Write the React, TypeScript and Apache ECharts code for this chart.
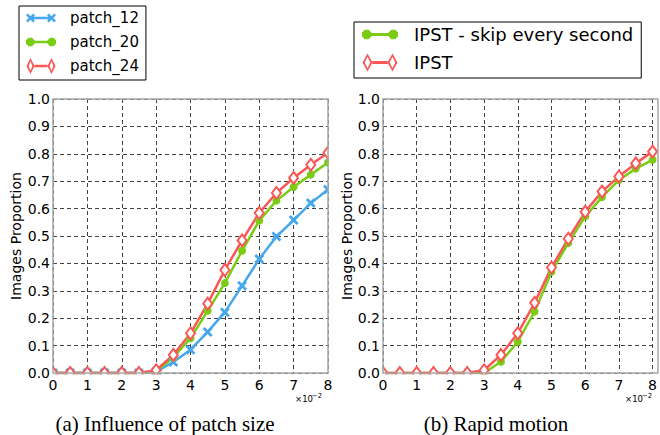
import React, { useEffect, useRef } from "react";
import * as echarts from "echarts";

const xs = [0, 0.5, 1, 1.5, 2, 2.5, 3, 3.5, 4, 4.5, 5, 5.5, 6, 6.5, 7, 7.5, 8];
const patch12 = [0, 0, 0, 0, 0, 0, 0.005, 0.04, 0.085, 0.15, 0.222, 0.318, 0.416, 0.498, 0.558, 0.62, 0.67];
const patch20 = [0, 0, 0, 0, 0, 0, 0.005, 0.057, 0.127, 0.227, 0.328, 0.446, 0.556, 0.629, 0.679, 0.724, 0.768];
const patch24 = [0, 0, 0, 0, 0, 0, 0.01, 0.066, 0.145, 0.253, 0.376, 0.484, 0.584, 0.657, 0.712, 0.76, 0.804];
const ipstSkip = [0, 0, 0, 0, 0, 0, 0, 0.041, 0.114, 0.224, 0.369, 0.474, 0.571, 0.642, 0.704, 0.746, 0.778];
const ipst = [0, 0, 0, 0, 0, 0, 0.01, 0.066, 0.145, 0.256, 0.385, 0.49, 0.588, 0.662, 0.717, 0.765, 0.808];

const leftNames = ["patch_12", "patch_20", "patch_24"];
const rightNames = ["IPST - skip every second", "IPST"];
const captions = ["(a) Influence of patch size", "(b) Rapid motion"];
const yName = "Images Proportion";

const BLUE = "#46a8ec";
const GREEN = "#7acd14";
const RED = "#fa5656";

const X_SYMBOL = "path://M0,2 L2,0 L5,3 L8,0 L10,2 L7,5 L10,8 L8,10 L5,7 L2,10 L0,8 L3,5 Z";

const f = (n: number) => n.toFixed(2);
function rectP(x1: number, x2: number, cy: number, lw: number) {
  return `M${f(x1)},${f(cy - lw / 2)} L${f(x2)},${f(cy - lw / 2)} L${f(x2)},${f(cy + lw / 2)} L${f(x1)},${f(cy + lw / 2)} Z `;
}
function xP(cx: number, cy: number, s: number) {
  const t = [[0, 2], [2, 0], [5, 3], [8, 0], [10, 2], [7, 5], [10, 8], [8, 10], [5, 7], [2, 10], [0, 8], [3, 5]];
  return "M" + t.map(([x, y]) => `${f(cx + ((x - 5) * s) / 5)},${f(cy + ((y - 5) * s) / 5)}`).join(" L") + " Z ";
}
function octP(cx: number, cy: number, r: number) {
  const pts = [];
  for (let k = 0; k < 8; k++) {
    const a = -Math.PI / 2 - Math.PI / 8 + (k * Math.PI) / 4;
    pts.push(`${f(cx + r * Math.cos(a))},${f(cy + r * Math.sin(a))}`);
  }
  return "M" + pts.join(" L") + " Z ";
}
function diaP(cx: number, cy: number, hw: number, hh: number, t: number) {
  const o = `M${f(cx)},${f(cy - hh)} L${f(cx + hw)},${f(cy)} L${f(cx)},${f(cy + hh)} L${f(cx - hw)},${f(cy)} Z `;
  const iw = hw - t * 1.1, ih = hh - t * 1.6;
  const i = `M${f(cx)},${f(cy - ih)} L${f(cx - iw)},${f(cy)} L${f(cx)},${f(cy + ih)} L${f(cx + iw)},${f(cy)} Z `;
  return o + i;
}
function icon(kind: string, W: number, H: number, s: number, lw: number) {
  const cy = H / 2;
  const c1 = s, c2 = W - s;
  if (kind === "x") return "path://" + xP(c1, cy, s) + xP(c2, cy, s) + rectP(c1, c2, cy, lw);
  if (kind === "o") return "path://" + octP(c1, cy, s) + octP(c2, cy, s) + rectP(c1, c2, cy, lw);
  const hw = s * 0.9;
  return "path://" + diaP(c1, cy, hw, H / 2, 2) + diaP(c2, cy, hw, H / 2, 2) + rectP(c1 + hw, c2 - hw, cy, lw);
}

const pair = (ys: number[]) => xs.map((x, i) => [x, ys[i]]);

const G = [
  { left: 53, top: 99, width: 275, height: 274 },
  { left: 383, top: 99, width: 275, height: 274 },
];

const FONT = "DejaVu Sans";

export default function App() {
  const ref = useRef<HTMLDivElement>(null);
  useEffect(() => {
    document.body.style.margin = "0";
    if (!ref.current) return;
    const chart = echarts.init(ref.current, undefined, { renderer: "svg" });
    const baseX = (gi: number, labels: boolean) => ({
      type: "value",
      gridIndex: gi,
      position: "bottom",
      min: 0,
      max: 8,
      interval: 1,
      z: labels ? 10 : 0,
      axisLine: { show: false },
      axisTick: { show: false },
      axisLabel: { show: labels, color: "#000", fontSize: 14, fontFamily: FONT, margin: 5 },
      splitLine: { show: !labels, lineStyle: { color: "#111", width: 0.8, type: [4, 3] } },
    });
    const baseY = (gi: number, labels: boolean) => ({
      type: "value",
      gridIndex: gi,
      position: "left",
      min: 0,
      max: 1,
      interval: 0.1,
      z: labels ? 10 : 0,
      axisLine: { show: false },
      axisTick: { show: false },
      axisLabel: {
        show: labels,
        color: "#000",
        fontSize: 14,
        fontFamily: FONT,
        margin: 3,
        formatter: (v: number) => v.toFixed(1),
      },
      splitLine: { show: !labels, lineStyle: { color: "#111", width: 0.8, type: [4, 3] } },
    });
    const line = (name: string, ys: number[], gi: number, color: string, symbol: string, size: any) => ({
      type: "line",
      name,
      xAxisIndex: gi,
      yAxisIndex: gi,
      data: pair(ys),
      symbol,
      symbolSize: size,
      showAllSymbol: true,
      clip: false,
      lineStyle: { color, width: 2.5 },
      itemStyle: { color, borderWidth: symbol.startsWith("empty") ? 2 : 0 },
      z: 2,
    });
    const mask = (x: number, y: number, w: number, h: number) => ({
      type: "rect",
      z: 5,
      silent: true,
      shape: { x, y, width: w, height: h },
      style: { fill: "#fff" },
    });
    const frame = (g: any) => ({
      type: "rect",
      z: 6,
      silent: true,
      shape: { x: g.left, y: g.top, width: g.width, height: g.height },
      style: { fill: "none", stroke: "#a6a6a6", lineWidth: 1.5 },
    });
    const txt = (text: string, x: number, y: number, size: number, family: string, extra: any = {}) => ({
      type: "text",
      z: 10,
      x,
      y,
      ...extra,
      style: {
        text,
        fontSize: size,
        lineHeight: size,
        fontFamily: family,
        fill: "#000",
        align: "center",
        verticalAlign: "middle",
      },
    });
    const legendCommon = {
      orient: "vertical",
      borderColor: "#000",
      borderWidth: 1,
      borderRadius: 0,
      backgroundColor: "#fff",
      symbolKeepAspect: true,
      selectedMode: false,
      itemStyle: { borderWidth: 0 },
      z: 12,
    };
    chart.setOption({
      animation: false,
      grid: G.map((g) => ({ ...g, containLabel: false })),
      xAxis: [baseX(0, false), baseX(1, false), baseX(0, true), baseX(1, true)],
      yAxis: [baseY(0, false), baseY(1, false), baseY(0, true), baseY(1, true)],
      legend: [
        {
          ...legendCommon,
          left: 19,
          top: 6,
          padding: [4, 7, 6, 7],
          itemWidth: 30,
          itemHeight: 16,
          itemGap: 8,
          textStyle: { fontSize: 15, fontFamily: FONT, color: "#000", lineHeight: 16, padding: [0, 0, 0, 9] },
          data: [
            { name: leftNames[0], icon: icon("x", 30, 16, 4.5, 2.5) },
            { name: leftNames[1], icon: icon("o", 30, 16, 4.5, 2.5) },
            { name: leftNames[2], icon: icon("d", 30, 16, 4.5, 2.5) },
          ],
        },
        {
          ...legendCommon,
          left: 354,
          top: 22,
          padding: [3, 8, 6, 8],
          itemWidth: 36,
          itemHeight: 18,
          itemGap: 9,
          textStyle: { fontSize: 18, fontFamily: FONT, color: "#000", lineHeight: 19, padding: [0, 0, 0, 11] },
          data: [
            { name: rightNames[0], icon: icon("o", 36, 18, 5, 3) },
            { name: rightNames[1], icon: icon("d", 36, 18, 5.5, 3) },
          ],
        },
      ],
      series: [
        line(leftNames[0], patch12, 0, BLUE, X_SYMBOL, 10),
        line(leftNames[1], patch20, 0, GREEN, "circle", 8),
        line(leftNames[2], patch24, 0, RED, "emptyDiamond", [9, 12]),
        line(rightNames[0], ipstSkip, 1, GREEN, "circle", 8),
        line(rightNames[1], ipst, 1, RED, "emptyDiamond", [9, 12]),
      ],
      graphic: {
        elements: [
          mask(0, 374.5, 660, 30),
          mask(0, 90, 52.3, 290),
          mask(328.8, 90, 53.5, 290),
          mask(658.8, 90, 2, 290),
          frame(G[0]),
          frame(G[1]),
          txt(yName, 15.5, 236, 14, FONT, { rotation: Math.PI / 2 }),
          txt(yName, 347, 236, 14, FONT, { rotation: Math.PI / 2 }),
          txt(captions[0], 165, 424, 21, "Liberation Serif"),
          txt(captions[1], 496, 424, 21, "Liberation Serif"),
          txt("×10", 304, 399, 8.5, FONT),
          txt("−2", 317, 395.5, 7, FONT),
          txt("×10", 634, 399, 8.5, FONT),
          txt("−2", 647, 395.5, 7, FONT),
        ],
      },
    });
    return () => chart.dispose();
  }, []);
  return <div ref={ref} style={{ width: 660, height: 435 }} />;
}
